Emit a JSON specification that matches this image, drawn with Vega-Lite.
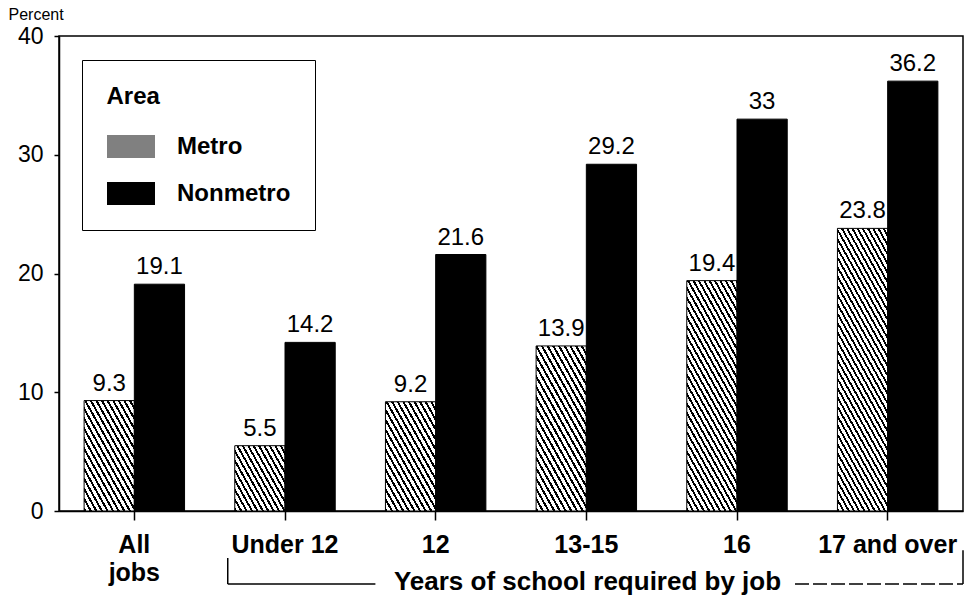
{
"$schema": "https://vega.github.io/schema/vega-lite/v6.json",
"width": 904,
"height": 475,
"autosize": "none",
"padding": {"left": 59, "top": 36, "right": 10, "bottom": 85},
"background": "white",
"config": {"view": {"stroke": "black", "strokeWidth": 1.5}, "font": "Liberation Sans"},
"data": {"values": [
{"cat": "All jobs", "area": "Metro", "value": 9.3},
{"cat": "All jobs", "area": "Nonmetro", "value": 19.1},
{"cat": "Under 12", "area": "Metro", "value": 5.5},
{"cat": "Under 12", "area": "Nonmetro", "value": 14.2},
{"cat": "12", "area": "Metro", "value": 9.2},
{"cat": "12", "area": "Nonmetro", "value": 21.6},
{"cat": "13-15", "area": "Metro", "value": 13.9},
{"cat": "13-15", "area": "Nonmetro", "value": 29.2},
{"cat": "16", "area": "Metro", "value": 19.4},
{"cat": "16", "area": "Nonmetro", "value": 33},
{"cat": "17 and over", "area": "Metro", "value": 23.8},
{"cat": "17 and over", "area": "Nonmetro", "value": 36.2}
]},
"layer": [
{
"mark": {"type": "bar", "stroke": "black", "strokeWidth": 1},
"encoding": {
"x": {"field": "cat", "type": "nominal", "sort": ["All jobs", "Under 12", "12", "13-15", "16", "17 and over"],
 "scale": {"paddingInner": 0, "paddingOuter": 0},
 "axis": {"title": "Years of school required by job", "titleFont": "Liberation Sans", "titleFontSize": 26, "titleFontWeight": "bold", "titleColor": "black", "titleX": 528, "titleY": 78, "titleBaseline": "alphabetic", "titleAlign": "center",
  "labelAngle": 0, "labelFont": "Liberation Sans", "labelFontSize": 25, "labelFontWeight": "bold", "labelColor": "black", "labelPadding": 12, "labelLineHeight": 28, "labelBaseline": "top",
  "labelExpr": "datum.value === 'All jobs' ? ['All', 'jobs'] : datum.label", "labelOverlap": false, "labelBound": false, "labelLimit": 300,
  "tickSize": 9, "tickColor": "black", "tickWidth": 1.5, "domainColor": "black", "domainWidth": 1.5}},
"xOffset": {"field": "area", "type": "nominal", "sort": ["Metro", "Nonmetro"], "scale": {"paddingOuter": 0.5, "paddingInner": 0}},
"y": {"field": "value", "type": "quantitative", "scale": {"domain": [0, 40], "nice": false},
 "axis": {"title": "Percent", "titleAngle": 0, "titleX": -51, "titleY": -17, "titleAlign": "left", "titleBaseline": "alphabetic", "titleFont": "Liberation Sans", "titleFontSize": 16, "titleFontWeight": "normal", "titleColor": "black",
  "values": [0, 10, 20, 30, 40], "labelFont": "Liberation Sans", "labelFontSize": 23, "labelColor": "black", "labelPadding": 11, "tickSize": 5, "tickColor": "black", "tickWidth": 1.5, "domainColor": "black", "domainWidth": 1.5, "grid": false}},
"fill": {
 "condition": [
  {"test": "datum.area === 'Metro' && (datum.cat === 'All jobs' || datum.cat === '12')", "value": {"gradient": "linear", "x1": 0, "y1": 1, "x2": 0.89, "y2": -0.09, "stops": [
{"offset":0,"color":"#000"},{"offset":0.02,"color":"#000"},{"offset":0.02,"color":"#fff"},{"offset":0.05,"color":"#fff"},
{"offset":0.05,"color":"#000"},{"offset":0.07,"color":"#000"},{"offset":0.07,"color":"#fff"},{"offset":0.1,"color":"#fff"},
{"offset":0.1,"color":"#000"},{"offset":0.12,"color":"#000"},{"offset":0.12,"color":"#fff"},{"offset":0.15,"color":"#fff"},
{"offset":0.15,"color":"#000"},{"offset":0.17,"color":"#000"},{"offset":0.17,"color":"#fff"},{"offset":0.2,"color":"#fff"},
{"offset":0.2,"color":"#000"},{"offset":0.22,"color":"#000"},{"offset":0.22,"color":"#fff"},{"offset":0.25,"color":"#fff"},
{"offset":0.25,"color":"#000"},{"offset":0.27,"color":"#000"},{"offset":0.27,"color":"#fff"},{"offset":0.3,"color":"#fff"},
{"offset":0.3,"color":"#000"},{"offset":0.32,"color":"#000"},{"offset":0.32,"color":"#fff"},{"offset":0.35,"color":"#fff"},
{"offset":0.35,"color":"#000"},{"offset":0.37,"color":"#000"},{"offset":0.37,"color":"#fff"},{"offset":0.4,"color":"#fff"},
{"offset":0.4,"color":"#000"},{"offset":0.42,"color":"#000"},{"offset":0.42,"color":"#fff"},{"offset":0.45,"color":"#fff"},
{"offset":0.45,"color":"#000"},{"offset":0.47,"color":"#000"},{"offset":0.47,"color":"#fff"},{"offset":0.5,"color":"#fff"},
{"offset":0.5,"color":"#000"},{"offset":0.52,"color":"#000"},{"offset":0.52,"color":"#fff"},{"offset":0.55,"color":"#fff"},
{"offset":0.55,"color":"#000"},{"offset":0.57,"color":"#000"},{"offset":0.57,"color":"#fff"},{"offset":0.6,"color":"#fff"},
{"offset":0.6,"color":"#000"},{"offset":0.62,"color":"#000"},{"offset":0.62,"color":"#fff"},{"offset":0.65,"color":"#fff"},
{"offset":0.65,"color":"#000"},{"offset":0.67,"color":"#000"},{"offset":0.67,"color":"#fff"},{"offset":0.7,"color":"#fff"},
{"offset":0.7,"color":"#000"},{"offset":0.72,"color":"#000"},{"offset":0.72,"color":"#fff"},{"offset":0.75,"color":"#fff"},
{"offset":0.75,"color":"#000"},{"offset":0.77,"color":"#000"},{"offset":0.77,"color":"#fff"},{"offset":0.8,"color":"#fff"},
{"offset":0.8,"color":"#000"},{"offset":0.82,"color":"#000"},{"offset":0.82,"color":"#fff"},{"offset":0.85,"color":"#fff"},
{"offset":0.85,"color":"#000"},{"offset":0.87,"color":"#000"},{"offset":0.87,"color":"#fff"},{"offset":0.9,"color":"#fff"},
{"offset":0.9,"color":"#000"},{"offset":0.92,"color":"#000"},{"offset":0.92,"color":"#fff"},{"offset":0.95,"color":"#fff"},
{"offset":0.95,"color":"#000"},{"offset":0.97,"color":"#000"},{"offset":0.97,"color":"#fff"},{"offset":1,"color":"#fff"}
  ]}},
  {"test": "datum.area === 'Metro' && datum.cat === 'Under 12'", "value": {"gradient": "linear", "x1": 0, "y1": 1, "x2": 1.13, "y2": 0.18, "stops": [
{"offset":0,"color":"#000"},{"offset":0.025,"color":"#000"},{"offset":0.025,"color":"#fff"},{"offset":0.0625,"color":"#fff"},
{"offset":0.0625,"color":"#000"},{"offset":0.0875,"color":"#000"},{"offset":0.0875,"color":"#fff"},{"offset":0.125,"color":"#fff"},
{"offset":0.125,"color":"#000"},{"offset":0.15,"color":"#000"},{"offset":0.15,"color":"#fff"},{"offset":0.1875,"color":"#fff"},
{"offset":0.1875,"color":"#000"},{"offset":0.2125,"color":"#000"},{"offset":0.2125,"color":"#fff"},{"offset":0.25,"color":"#fff"},
{"offset":0.25,"color":"#000"},{"offset":0.275,"color":"#000"},{"offset":0.275,"color":"#fff"},{"offset":0.3125,"color":"#fff"},
{"offset":0.3125,"color":"#000"},{"offset":0.3375,"color":"#000"},{"offset":0.3375,"color":"#fff"},{"offset":0.375,"color":"#fff"},
{"offset":0.375,"color":"#000"},{"offset":0.4,"color":"#000"},{"offset":0.4,"color":"#fff"},{"offset":0.4375,"color":"#fff"},
{"offset":0.4375,"color":"#000"},{"offset":0.4625,"color":"#000"},{"offset":0.4625,"color":"#fff"},{"offset":0.5,"color":"#fff"},
{"offset":0.5,"color":"#000"},{"offset":0.525,"color":"#000"},{"offset":0.525,"color":"#fff"},{"offset":0.5625,"color":"#fff"},
{"offset":0.5625,"color":"#000"},{"offset":0.5875,"color":"#000"},{"offset":0.5875,"color":"#fff"},{"offset":0.625,"color":"#fff"},
{"offset":0.625,"color":"#000"},{"offset":0.65,"color":"#000"},{"offset":0.65,"color":"#fff"},{"offset":0.6875,"color":"#fff"},
{"offset":0.6875,"color":"#000"},{"offset":0.7125,"color":"#000"},{"offset":0.7125,"color":"#fff"},{"offset":0.75,"color":"#fff"},
{"offset":0.75,"color":"#000"},{"offset":0.775,"color":"#000"},{"offset":0.775,"color":"#fff"},{"offset":0.8125,"color":"#fff"},
{"offset":0.8125,"color":"#000"},{"offset":0.8375,"color":"#000"},{"offset":0.8375,"color":"#fff"},{"offset":0.875,"color":"#fff"},
{"offset":0.875,"color":"#000"},{"offset":0.9,"color":"#000"},{"offset":0.9,"color":"#fff"},{"offset":0.9375,"color":"#fff"},
{"offset":0.9375,"color":"#000"},{"offset":0.9625,"color":"#000"},{"offset":0.9625,"color":"#fff"},{"offset":1,"color":"#fff"}
  ]}},
  {"test": "datum.area === 'Metro' && datum.cat === '13-15'", "value": {"gradient": "linear", "x1": 0, "y1": 1, "x2": 0.649, "y2": -0.191, "stops": [
{"offset":0,"color":"#000"},{"offset":0.016,"color":"#000"},{"offset":0.016,"color":"#fff"},{"offset":0.04,"color":"#fff"},
{"offset":0.04,"color":"#000"},{"offset":0.056,"color":"#000"},{"offset":0.056,"color":"#fff"},{"offset":0.08,"color":"#fff"},
{"offset":0.08,"color":"#000"},{"offset":0.096,"color":"#000"},{"offset":0.096,"color":"#fff"},{"offset":0.12,"color":"#fff"},
{"offset":0.12,"color":"#000"},{"offset":0.136,"color":"#000"},{"offset":0.136,"color":"#fff"},{"offset":0.16,"color":"#fff"},
{"offset":0.16,"color":"#000"},{"offset":0.176,"color":"#000"},{"offset":0.176,"color":"#fff"},{"offset":0.2,"color":"#fff"},
{"offset":0.2,"color":"#000"},{"offset":0.216,"color":"#000"},{"offset":0.216,"color":"#fff"},{"offset":0.24,"color":"#fff"},
{"offset":0.24,"color":"#000"},{"offset":0.256,"color":"#000"},{"offset":0.256,"color":"#fff"},{"offset":0.28,"color":"#fff"},
{"offset":0.28,"color":"#000"},{"offset":0.296,"color":"#000"},{"offset":0.296,"color":"#fff"},{"offset":0.32,"color":"#fff"},
{"offset":0.32,"color":"#000"},{"offset":0.336,"color":"#000"},{"offset":0.336,"color":"#fff"},{"offset":0.36,"color":"#fff"},
{"offset":0.36,"color":"#000"},{"offset":0.376,"color":"#000"},{"offset":0.376,"color":"#fff"},{"offset":0.4,"color":"#fff"},
{"offset":0.4,"color":"#000"},{"offset":0.416,"color":"#000"},{"offset":0.416,"color":"#fff"},{"offset":0.44,"color":"#fff"},
{"offset":0.44,"color":"#000"},{"offset":0.456,"color":"#000"},{"offset":0.456,"color":"#fff"},{"offset":0.48,"color":"#fff"},
{"offset":0.48,"color":"#000"},{"offset":0.496,"color":"#000"},{"offset":0.496,"color":"#fff"},{"offset":0.52,"color":"#fff"},
{"offset":0.52,"color":"#000"},{"offset":0.536,"color":"#000"},{"offset":0.536,"color":"#fff"},{"offset":0.56,"color":"#fff"},
{"offset":0.56,"color":"#000"},{"offset":0.576,"color":"#000"},{"offset":0.576,"color":"#fff"},{"offset":0.6,"color":"#fff"},
{"offset":0.6,"color":"#000"},{"offset":0.616,"color":"#000"},{"offset":0.616,"color":"#fff"},{"offset":0.64,"color":"#fff"},
{"offset":0.64,"color":"#000"},{"offset":0.656,"color":"#000"},{"offset":0.656,"color":"#fff"},{"offset":0.68,"color":"#fff"},
{"offset":0.68,"color":"#000"},{"offset":0.696,"color":"#000"},{"offset":0.696,"color":"#fff"},{"offset":0.72,"color":"#fff"},
{"offset":0.72,"color":"#000"},{"offset":0.736,"color":"#000"},{"offset":0.736,"color":"#fff"},{"offset":0.76,"color":"#fff"},
{"offset":0.76,"color":"#000"},{"offset":0.776,"color":"#000"},{"offset":0.776,"color":"#fff"},{"offset":0.8,"color":"#fff"},
{"offset":0.8,"color":"#000"},{"offset":0.816,"color":"#000"},{"offset":0.816,"color":"#fff"},{"offset":0.84,"color":"#fff"},
{"offset":0.84,"color":"#000"},{"offset":0.856,"color":"#000"},{"offset":0.856,"color":"#fff"},{"offset":0.88,"color":"#fff"},
{"offset":0.88,"color":"#000"},{"offset":0.896,"color":"#000"},{"offset":0.896,"color":"#fff"},{"offset":0.92,"color":"#fff"},
{"offset":0.92,"color":"#000"},{"offset":0.936,"color":"#000"},{"offset":0.936,"color":"#fff"},{"offset":0.96,"color":"#fff"},
{"offset":0.96,"color":"#000"},{"offset":0.976,"color":"#000"},{"offset":0.976,"color":"#fff"},{"offset":1,"color":"#fff"}
  ]}},
  {"test": "datum.area === 'Metro' && datum.cat === '16'", "value": {"gradient": "linear", "x1": 0, "y1": 1, "x2": 0.471, "y2": -0.207, "stops": [
{"offset":0,"color":"#000"},{"offset":0.012,"color":"#000"},{"offset":0.012,"color":"#fff"},{"offset":0.03,"color":"#fff"},
{"offset":0.03,"color":"#000"},{"offset":0.042,"color":"#000"},{"offset":0.042,"color":"#fff"},{"offset":0.06,"color":"#fff"},
{"offset":0.06,"color":"#000"},{"offset":0.072,"color":"#000"},{"offset":0.072,"color":"#fff"},{"offset":0.09,"color":"#fff"},
{"offset":0.09,"color":"#000"},{"offset":0.102,"color":"#000"},{"offset":0.102,"color":"#fff"},{"offset":0.12,"color":"#fff"},
{"offset":0.12,"color":"#000"},{"offset":0.132,"color":"#000"},{"offset":0.132,"color":"#fff"},{"offset":0.15,"color":"#fff"},
{"offset":0.15,"color":"#000"},{"offset":0.162,"color":"#000"},{"offset":0.162,"color":"#fff"},{"offset":0.18,"color":"#fff"},
{"offset":0.18,"color":"#000"},{"offset":0.192,"color":"#000"},{"offset":0.192,"color":"#fff"},{"offset":0.21,"color":"#fff"},
{"offset":0.21,"color":"#000"},{"offset":0.222,"color":"#000"},{"offset":0.222,"color":"#fff"},{"offset":0.24,"color":"#fff"},
{"offset":0.24,"color":"#000"},{"offset":0.252,"color":"#000"},{"offset":0.252,"color":"#fff"},{"offset":0.27,"color":"#fff"},
{"offset":0.27,"color":"#000"},{"offset":0.282,"color":"#000"},{"offset":0.282,"color":"#fff"},{"offset":0.3,"color":"#fff"},
{"offset":0.3,"color":"#000"},{"offset":0.312,"color":"#000"},{"offset":0.312,"color":"#fff"},{"offset":0.33,"color":"#fff"},
{"offset":0.33,"color":"#000"},{"offset":0.342,"color":"#000"},{"offset":0.342,"color":"#fff"},{"offset":0.36,"color":"#fff"},
{"offset":0.36,"color":"#000"},{"offset":0.372,"color":"#000"},{"offset":0.372,"color":"#fff"},{"offset":0.39,"color":"#fff"},
{"offset":0.39,"color":"#000"},{"offset":0.402,"color":"#000"},{"offset":0.402,"color":"#fff"},{"offset":0.42,"color":"#fff"},
{"offset":0.42,"color":"#000"},{"offset":0.432,"color":"#000"},{"offset":0.432,"color":"#fff"},{"offset":0.45,"color":"#fff"},
{"offset":0.45,"color":"#000"},{"offset":0.462,"color":"#000"},{"offset":0.462,"color":"#fff"},{"offset":0.48,"color":"#fff"},
{"offset":0.48,"color":"#000"},{"offset":0.492,"color":"#000"},{"offset":0.492,"color":"#fff"},{"offset":0.51,"color":"#fff"},
{"offset":0.51,"color":"#000"},{"offset":0.522,"color":"#000"},{"offset":0.522,"color":"#fff"},{"offset":0.54,"color":"#fff"},
{"offset":0.54,"color":"#000"},{"offset":0.552,"color":"#000"},{"offset":0.552,"color":"#fff"},{"offset":0.57,"color":"#fff"},
{"offset":0.57,"color":"#000"},{"offset":0.582,"color":"#000"},{"offset":0.582,"color":"#fff"},{"offset":0.6,"color":"#fff"},
{"offset":0.6,"color":"#000"},{"offset":0.612,"color":"#000"},{"offset":0.612,"color":"#fff"},{"offset":0.63,"color":"#fff"},
{"offset":0.63,"color":"#000"},{"offset":0.642,"color":"#000"},{"offset":0.642,"color":"#fff"},{"offset":0.66,"color":"#fff"},
{"offset":0.66,"color":"#000"},{"offset":0.672,"color":"#000"},{"offset":0.672,"color":"#fff"},{"offset":0.69,"color":"#fff"},
{"offset":0.69,"color":"#000"},{"offset":0.702,"color":"#000"},{"offset":0.702,"color":"#fff"},{"offset":0.72,"color":"#fff"},
{"offset":0.72,"color":"#000"},{"offset":0.732,"color":"#000"},{"offset":0.732,"color":"#fff"},{"offset":0.75,"color":"#fff"},
{"offset":0.75,"color":"#000"},{"offset":0.762,"color":"#000"},{"offset":0.762,"color":"#fff"},{"offset":0.78,"color":"#fff"},
{"offset":0.78,"color":"#000"},{"offset":0.792,"color":"#000"},{"offset":0.792,"color":"#fff"},{"offset":0.81,"color":"#fff"},
{"offset":0.81,"color":"#000"},{"offset":0.822,"color":"#000"},{"offset":0.822,"color":"#fff"},{"offset":0.84,"color":"#fff"},
{"offset":0.84,"color":"#000"},{"offset":0.852,"color":"#000"},{"offset":0.852,"color":"#fff"},{"offset":0.87,"color":"#fff"},
{"offset":0.87,"color":"#000"},{"offset":0.882,"color":"#000"},{"offset":0.882,"color":"#fff"},{"offset":0.9,"color":"#fff"},
{"offset":0.9,"color":"#000"},{"offset":0.912,"color":"#000"},{"offset":0.912,"color":"#fff"},{"offset":0.93,"color":"#fff"},
{"offset":0.93,"color":"#000"},{"offset":0.942,"color":"#000"},{"offset":0.942,"color":"#fff"},{"offset":0.96,"color":"#fff"},
{"offset":0.96,"color":"#000"},{"offset":0.972,"color":"#000"},{"offset":0.972,"color":"#fff"},{"offset":0.99,"color":"#fff"},
{"offset":0.99,"color":"#000"},{"offset":1,"color":"#000"}
  ]}},
  {"test": "datum.area === 'Metro' && datum.cat === '17 and over'", "value": {"gradient": "linear", "x1": 0, "y1": 1, "x2": 0.381, "y2": -0.197, "stops": [
{"offset":0,"color":"#000"},{"offset":0.01,"color":"#000"},{"offset":0.01,"color":"#fff"},{"offset":0.025,"color":"#fff"},
{"offset":0.025,"color":"#000"},{"offset":0.035,"color":"#000"},{"offset":0.035,"color":"#fff"},{"offset":0.05,"color":"#fff"},
{"offset":0.05,"color":"#000"},{"offset":0.06,"color":"#000"},{"offset":0.06,"color":"#fff"},{"offset":0.075,"color":"#fff"},
{"offset":0.075,"color":"#000"},{"offset":0.085,"color":"#000"},{"offset":0.085,"color":"#fff"},{"offset":0.1,"color":"#fff"},
{"offset":0.1,"color":"#000"},{"offset":0.11,"color":"#000"},{"offset":0.11,"color":"#fff"},{"offset":0.125,"color":"#fff"},
{"offset":0.125,"color":"#000"},{"offset":0.135,"color":"#000"},{"offset":0.135,"color":"#fff"},{"offset":0.15,"color":"#fff"},
{"offset":0.15,"color":"#000"},{"offset":0.16,"color":"#000"},{"offset":0.16,"color":"#fff"},{"offset":0.175,"color":"#fff"},
{"offset":0.175,"color":"#000"},{"offset":0.185,"color":"#000"},{"offset":0.185,"color":"#fff"},{"offset":0.2,"color":"#fff"},
{"offset":0.2,"color":"#000"},{"offset":0.21,"color":"#000"},{"offset":0.21,"color":"#fff"},{"offset":0.225,"color":"#fff"},
{"offset":0.225,"color":"#000"},{"offset":0.235,"color":"#000"},{"offset":0.235,"color":"#fff"},{"offset":0.25,"color":"#fff"},
{"offset":0.25,"color":"#000"},{"offset":0.26,"color":"#000"},{"offset":0.26,"color":"#fff"},{"offset":0.275,"color":"#fff"},
{"offset":0.275,"color":"#000"},{"offset":0.285,"color":"#000"},{"offset":0.285,"color":"#fff"},{"offset":0.3,"color":"#fff"},
{"offset":0.3,"color":"#000"},{"offset":0.31,"color":"#000"},{"offset":0.31,"color":"#fff"},{"offset":0.325,"color":"#fff"},
{"offset":0.325,"color":"#000"},{"offset":0.335,"color":"#000"},{"offset":0.335,"color":"#fff"},{"offset":0.35,"color":"#fff"},
{"offset":0.35,"color":"#000"},{"offset":0.36,"color":"#000"},{"offset":0.36,"color":"#fff"},{"offset":0.375,"color":"#fff"},
{"offset":0.375,"color":"#000"},{"offset":0.385,"color":"#000"},{"offset":0.385,"color":"#fff"},{"offset":0.4,"color":"#fff"},
{"offset":0.4,"color":"#000"},{"offset":0.41,"color":"#000"},{"offset":0.41,"color":"#fff"},{"offset":0.425,"color":"#fff"},
{"offset":0.425,"color":"#000"},{"offset":0.435,"color":"#000"},{"offset":0.435,"color":"#fff"},{"offset":0.45,"color":"#fff"},
{"offset":0.45,"color":"#000"},{"offset":0.46,"color":"#000"},{"offset":0.46,"color":"#fff"},{"offset":0.475,"color":"#fff"},
{"offset":0.475,"color":"#000"},{"offset":0.485,"color":"#000"},{"offset":0.485,"color":"#fff"},{"offset":0.5,"color":"#fff"},
{"offset":0.5,"color":"#000"},{"offset":0.51,"color":"#000"},{"offset":0.51,"color":"#fff"},{"offset":0.525,"color":"#fff"},
{"offset":0.525,"color":"#000"},{"offset":0.535,"color":"#000"},{"offset":0.535,"color":"#fff"},{"offset":0.55,"color":"#fff"},
{"offset":0.55,"color":"#000"},{"offset":0.56,"color":"#000"},{"offset":0.56,"color":"#fff"},{"offset":0.575,"color":"#fff"},
{"offset":0.575,"color":"#000"},{"offset":0.585,"color":"#000"},{"offset":0.585,"color":"#fff"},{"offset":0.6,"color":"#fff"},
{"offset":0.6,"color":"#000"},{"offset":0.61,"color":"#000"},{"offset":0.61,"color":"#fff"},{"offset":0.625,"color":"#fff"},
{"offset":0.625,"color":"#000"},{"offset":0.635,"color":"#000"},{"offset":0.635,"color":"#fff"},{"offset":0.65,"color":"#fff"},
{"offset":0.65,"color":"#000"},{"offset":0.66,"color":"#000"},{"offset":0.66,"color":"#fff"},{"offset":0.675,"color":"#fff"},
{"offset":0.675,"color":"#000"},{"offset":0.685,"color":"#000"},{"offset":0.685,"color":"#fff"},{"offset":0.7,"color":"#fff"},
{"offset":0.7,"color":"#000"},{"offset":0.71,"color":"#000"},{"offset":0.71,"color":"#fff"},{"offset":0.725,"color":"#fff"},
{"offset":0.725,"color":"#000"},{"offset":0.735,"color":"#000"},{"offset":0.735,"color":"#fff"},{"offset":0.75,"color":"#fff"},
{"offset":0.75,"color":"#000"},{"offset":0.76,"color":"#000"},{"offset":0.76,"color":"#fff"},{"offset":0.775,"color":"#fff"},
{"offset":0.775,"color":"#000"},{"offset":0.785,"color":"#000"},{"offset":0.785,"color":"#fff"},{"offset":0.8,"color":"#fff"},
{"offset":0.8,"color":"#000"},{"offset":0.81,"color":"#000"},{"offset":0.81,"color":"#fff"},{"offset":0.825,"color":"#fff"},
{"offset":0.825,"color":"#000"},{"offset":0.835,"color":"#000"},{"offset":0.835,"color":"#fff"},{"offset":0.85,"color":"#fff"},
{"offset":0.85,"color":"#000"},{"offset":0.86,"color":"#000"},{"offset":0.86,"color":"#fff"},{"offset":0.875,"color":"#fff"},
{"offset":0.875,"color":"#000"},{"offset":0.885,"color":"#000"},{"offset":0.885,"color":"#fff"},{"offset":0.9,"color":"#fff"},
{"offset":0.9,"color":"#000"},{"offset":0.91,"color":"#000"},{"offset":0.91,"color":"#fff"},{"offset":0.925,"color":"#fff"},
{"offset":0.925,"color":"#000"},{"offset":0.935,"color":"#000"},{"offset":0.935,"color":"#fff"},{"offset":0.95,"color":"#fff"},
{"offset":0.95,"color":"#000"},{"offset":0.96,"color":"#000"},{"offset":0.96,"color":"#fff"},{"offset":0.975,"color":"#fff"},
{"offset":0.975,"color":"#000"},{"offset":0.985,"color":"#000"},{"offset":0.985,"color":"#fff"},{"offset":1,"color":"#fff"}
  ]}}
 ],
 "field": "area", "type": "nominal",
 "scale": {"domain": ["Metro", "Nonmetro"], "range": ["#808080", "black"]},
 "legend": {"orient": "none", "legendX": 23, "legendY": 24, "title": "Area",
  "titleFont": "Liberation Sans", "titleFontSize": 24, "titleFontWeight": "bold", "titleColor": "black", "titlePadding": 26,
  "labelFont": "Liberation Sans", "labelFontSize": 24, "labelFontWeight": "bold", "labelColor": "black", "labelOffset": 34, "labelLimit": 400,
  "symbolType": "M-2,-0.96H2V0.96H-2Z", "symbolSize": 576, "symbolStrokeWidth": 0, "symbolOffset": 12.5, "symbolOpacity": 1,
  "rowPadding": 23, "padding": 24.5, "strokeColor": "black", "fillColor": "white"
 }
}
}
},
{
"mark": {"type": "text", "baseline": "alphabetic", "dy": -10, "fontSize": 24, "font": "Liberation Sans", "color": "black"},
"encoding": {
"x": {"field": "cat", "type": "nominal", "sort": ["All jobs", "Under 12", "12", "13-15", "16", "17 and over"]},
"xOffset": {"field": "area", "type": "nominal", "sort": ["Metro", "Nonmetro"]},
"y": {"field": "value", "type": "quantitative"},
"text": {"field": "value", "type": "nominal"}
}
},
{
"data": {"values": [{}]},
"mark": {"type": "rule", "color": "black", "strokeWidth": 1.5},
"encoding": {
"x": {"datum": "Under 12", "type": "nominal", "bandPosition": 0.12},
"y": {"datum": -3.96, "type": "quantitative"},
"y2": {"datum": -6.15}
}
},
{
"data": {"values": [{}]},
"mark": {"type": "rule", "color": "black", "strokeWidth": 1.5},
"encoding": {
"x": {"datum": "Under 12", "type": "nominal", "bandPosition": 0.12},
"x2": {"datum": "12", "bandPosition": 0.1},
"y": {"datum": -6.15, "type": "quantitative"}
}
},
{
"data": {"values": [{}]},
"mark": {"type": "rule", "color": "black", "strokeWidth": 1.5, "strokeDash": [14, 4]},
"encoding": {
"x": {"datum": "16", "type": "nominal", "bandPosition": 0.885},
"x2": {"datum": "17 and over", "bandPosition": 1},
"y": {"datum": -6.15, "type": "quantitative"}
}
},
{
"data": {"values": [{}]},
"mark": {"type": "rule", "color": "black", "strokeWidth": 1.5},
"encoding": {
"x": {"datum": "17 and over", "type": "nominal", "bandPosition": 1},
"y": {"datum": -3.3, "type": "quantitative"},
"y2": {"datum": -6.15}
}
}
]
}
